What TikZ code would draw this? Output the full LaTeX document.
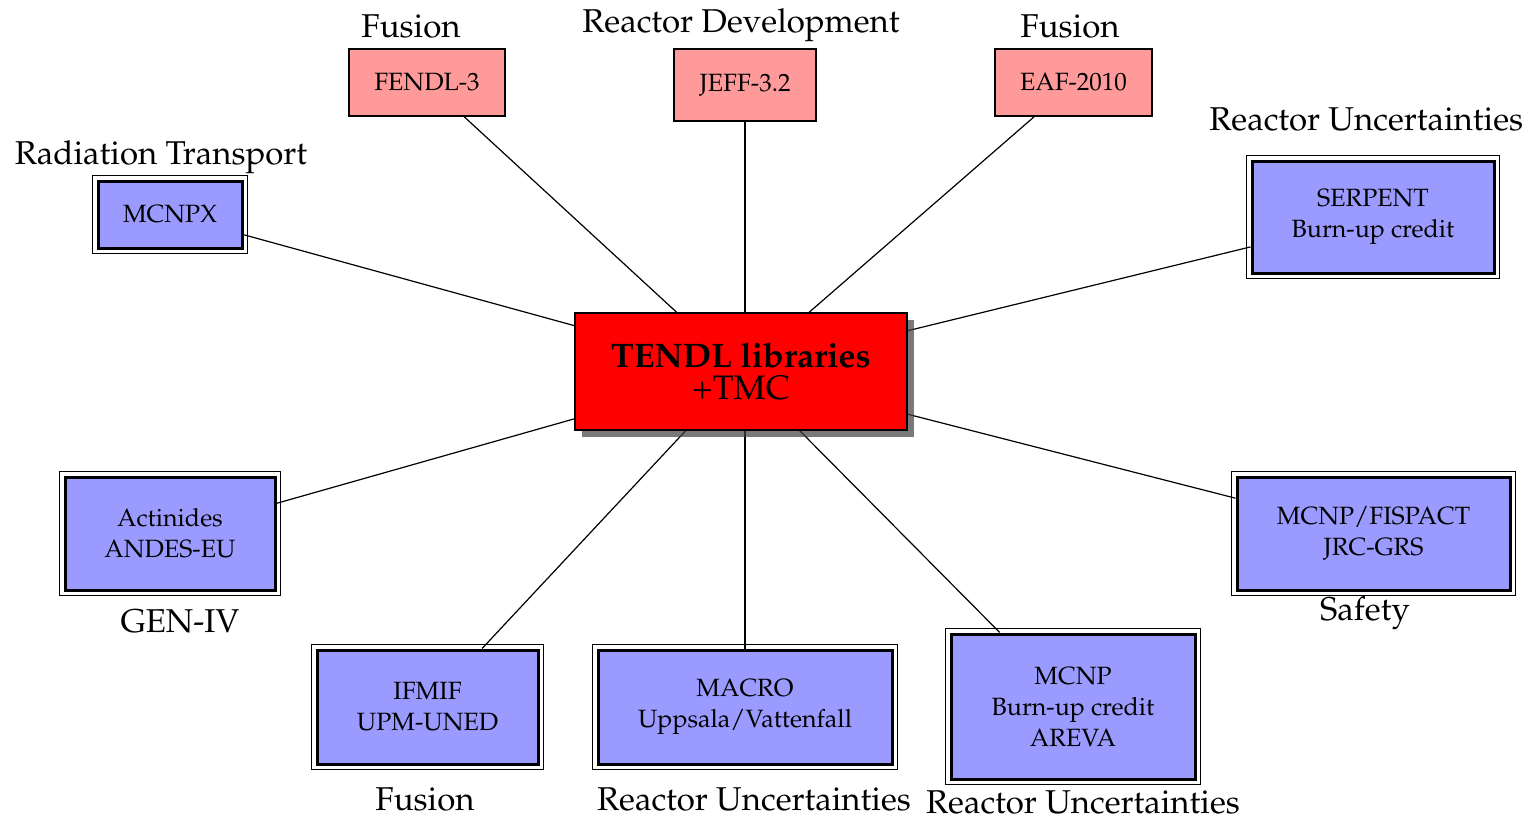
\documentclass[tikz,border=0pt]{standalone}
\usepackage[T1]{fontenc}
\usepackage{mathpazo}
\usetikzlibrary{shadows,backgrounds}
\definecolor{pinkfill}{HTML}{FF9A9A}
\definecolor{bluefill}{HTML}{9A9AFF}
\tikzset{
  pinkbox/.style={draw=black, line width=0.8pt, fill=pinkfill, align=center, inner sep=0pt, font=\fontsize{12.5}{15}\selectfont},
  bluebox/.style={draw=black, line width=1.5pt, fill=bluefill, align=center, inner sep=0pt, font=\fontsize{12.5}{15.5}\selectfont},
  mainbox/.style={draw=black, line width=1.1pt, fill=red, align=center, inner sep=0pt,
     drop shadow={shadow xshift=3.5pt, shadow yshift=-3.5pt, opacity=0.7, fill=black!75},
     font=\fontsize{17}{17}\selectfont},
  lbl/.style={anchor=base, inner sep=0pt, font=\fontsize{16.5}{18}\selectfont},
  conn/.style={line width=0.6pt, draw=black}
}
\begin{document}
\begin{tikzpicture}[x=0.5pt,y=-0.5pt]
\useasboundingbox (0,0) rectangle (1534,820);
% centre
\node[mainbox, minimum width=166pt, minimum height=58.5pt] (c) at (741,371.5) {\textbf{TENDL libraries}\\[-1pt]+TMC};
% pink boxes
\node[pinkbox, minimum width=78pt, minimum height=33.5pt] (fendl) at (427,82.5) {FENDL-3};
\node[pinkbox, minimum width=71pt, minimum height=36pt] (jeff) at (745,85) {JEFF-3.2};
\node[pinkbox, minimum width=78.5pt, minimum height=33.5pt] (eaf) at (1073.5,82.5) {EAF-2010};
% blue boxes
\node[bluebox, minimum width=72pt, minimum height=33.5pt] (mcnpx) at (170,214.5) {MCNPX};
\node[bluebox, minimum width=121pt, minimum height=56pt] (serpent) at (1373,217) {SERPENT\\Burn-up credit};
\node[bluebox, minimum width=105pt, minimum height=56.5pt] (act) at (170,533.5) {Actinides\\ANDES-EU};
\node[bluebox, minimum width=136.5pt, minimum height=56.5pt] (fispact) at (1373.5,533.5) {MCNP/FISPACT\\JRC-GRS};
\node[bluebox, minimum width=110.5pt, minimum height=57pt] (ifmif) at (427.5,707) {IFMIF\\UPM-UNED};
\node[bluebox, minimum width=147pt, minimum height=57pt] (macro) at (745,707) {MACRO\\Uppsala/Vattenfall};
\node[bluebox, minimum width=122pt, minimum height=72.5pt] (areva) at (1073,706.5) {MCNP\\Burn-up credit\\AREVA};
% outer frames of blue boxes
\foreach \n in {mcnpx,serpent,act,fispact,ifmif,macro,areva}
  \draw[line width=0.6pt] ([shift={(-4,-4)}]\n.north west) rectangle ([shift={(4,4)}]\n.south east);
% connectors
\begin{scope}[on background layer]
\foreach \n in {fendl,eaf,mcnpx,serpent,act,fispact,ifmif,areva}
  \draw[conn] (c.center) -- (\n);
\draw[conn] (jeff) -- (jeff |- c.north);
\draw[conn] (macro) -- (macro |- c.south);
\end{scope}
% labels
\node[lbl] (l1) at (411,37) {Fusion};
\node[lbl] (l2) at (741,32) {Reactor Development};
\node[lbl] (l3) at (1070,37) {Fusion};
\node[lbl] (l4) at (161,164) {Radiation Transport};
\node[lbl, anchor=base west] (l5) at (1209,130) {Reactor Uncertainties};
\node[lbl] (l6) at (180,632) {GEN-IV};
\node[lbl] (l7) at (1365,620) {Safety};
\node[lbl] (l8) at (425,810) {Fusion};
\node[lbl] (l9) at (754,810) {Reactor Uncertainties};
\node[lbl] (l10) at (1083,813) {Reactor Uncertainties};
\end{tikzpicture}
\end{document}
